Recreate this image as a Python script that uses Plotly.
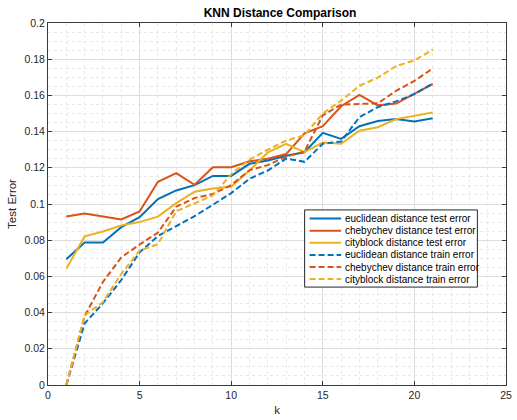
import plotly.graph_objects as go

k = list(range(1, 22))
euclid_test = [0.0695, 0.0787, 0.0787, 0.0872, 0.0927, 0.1027, 0.1075, 0.1104, 0.1155, 0.1155, 0.1222,
               0.1240, 0.1267, 0.1286, 0.1393, 0.1360, 0.1430, 0.1458, 0.1470, 0.1456, 0.1474]
cheby_test = [0.0931, 0.0947, 0.0931, 0.0915, 0.0959, 0.1123, 0.1171, 0.1106, 0.1203, 0.1203, 0.1236,
              0.1250, 0.1276, 0.1390, 0.1430, 0.1540, 0.1603, 0.1545, 0.1555, 0.1607, 0.1663]
city_test = [0.0643, 0.0821, 0.0848, 0.0882, 0.0900, 0.0930, 0.1005, 0.1068, 0.1086, 0.1095, 0.1185,
             0.1285, 0.1333, 0.1287, 0.1340, 0.1333, 0.1405, 0.1424, 0.1469, 0.1487, 0.1505]
euclid_train = [0.0, 0.0340, 0.0452, 0.0580, 0.0733, 0.0823, 0.0878, 0.0933, 0.0996, 0.1060, 0.1140,
                0.1185, 0.1251, 0.1233, 0.1333, 0.1345, 0.1480, 0.1535, 0.1567, 0.1607, 0.1665]
cheby_train = [0.0, 0.0380, 0.0570, 0.0705, 0.0776, 0.0842, 0.0985, 0.1033, 0.1055, 0.1105, 0.1187,
               0.1215, 0.1262, 0.1290, 0.1490, 0.1549, 0.1553, 0.1556, 0.1625, 0.1680, 0.1749]
city_train = [0.0, 0.0385, 0.0458, 0.0614, 0.0743, 0.0778, 0.0960, 0.1005, 0.1047, 0.1165, 0.1245,
              0.1300, 0.1350, 0.1380, 0.1500, 0.1571, 0.1653, 0.1698, 0.1762, 0.1793, 0.1853]

names = ["euclidean distance test error", "chebychev distance test error", "cityblock distance test error",
         "euclidean distance train error", "chebychev distance train error", "cityblock distance train error"]
series = [euclid_test, cheby_test, city_test, euclid_train, cheby_train, city_train]
colors = ["#0072BD", "#D95319", "#EDB120", "#0072BD", "#D95319", "#EDB120"]
dashes = ["solid", "solid", "solid", "6px,3px", "6px,3px", "6px,3px"]

x_ticks = [0, 5, 10, 15, 20, 25]
y_ticks = [0, 0.02, 0.04, 0.06, 0.08, 0.1, 0.12, 0.14, 0.16, 0.18, 0.2]
y_ticktext = ["0", "0.02", "0.04", "0.06", "0.08", "0.1", "0.12", "0.14", "0.16", "0.18", "0.2"]

FONT = "Liberation Sans, Arial, Helvetica, sans-serif"
TXT = "#262626"

fig = go.Figure()
for name, ys, c, d in zip(names, series, colors, dashes):
    fig.add_trace(go.Scatter(x=k, y=ys, mode="lines", name=name,
                             line=dict(color=c, width=2, dash=d), showlegend=False))

# custom compact legend (MATLAB style)
W, H = 464.0, 366.0
box_l, box_r, box_t, box_b = 308, 483, 212, 290
def px(xp):
    return (xp - 48) / W
def py(yp):
    return (389 - yp) / H
fig.add_shape(type="rect", xref="paper", yref="paper",
              x0=px(box_l), x1=px(box_r), y0=py(box_b), y1=py(box_t),
              line=dict(color="#262626", width=1), fillcolor="white", layer="above")
row0, drow = 220.7, 12.25
for i, (name, c, d) in enumerate(zip(names, colors, dashes)):
    yc = row0 + i * drow
    fig.add_shape(type="line", xref="paper", yref="paper",
                  x0=px(313), x1=px(345), y0=py(yc), y1=py(yc),
                  line=dict(color=c, width=2, dash=d), layer="above")
    fig.add_annotation(xref="paper", yref="paper", x=px(347), y=py(yc),
                       text=name, showarrow=False, xanchor="left", yanchor="middle",
                       font=dict(family=FONT, size=10, color="#000000"))

axis_common = dict(showline=True, linecolor="#3a3a3a", linewidth=1, mirror="ticks",
                   ticks="inside", ticklen=4, tickcolor="#3a3a3a",
                   showgrid=True, gridcolor="#dedede", gridwidth=1, zeroline=False,
                   tickfont=dict(family=FONT, size=10.5, color=TXT))

fig.update_xaxes(range=[0, 25], tickvals=x_ticks,
                 minor=dict(dtick=1, showgrid=True, gridcolor="#e8e8e8", griddash="dot", ticks=""),
                 title=dict(text="k", font=dict(family=FONT, size=11.5, color=TXT), standoff=6),
                 **axis_common)
fig.update_yaxes(range=[0, 0.2], tickvals=y_ticks, ticktext=y_ticktext,
                 minor=dict(dtick=0.005, tick0=0, showgrid=True, gridcolor="#e8e8e8", griddash="dot", ticks=""),
                 title=dict(text="Test Error", font=dict(family=FONT, size=11.5, color=TXT), standoff=5),
                 **axis_common)

fig.update_layout(
    width=517, height=420,
    margin=dict(l=48, r=5, t=23, b=31),
    paper_bgcolor="white", plot_bgcolor="white",
    title=dict(text="<b>KNN Distance Comparison</b>", x=(280 / 517), xanchor="center",
               y=1 - 12.5 / 420, yanchor="middle", yref="container",
               font=dict(family=FONT, size=12, color="#000000")),
    showlegend=False,
)

fig.write_html("out.html")
